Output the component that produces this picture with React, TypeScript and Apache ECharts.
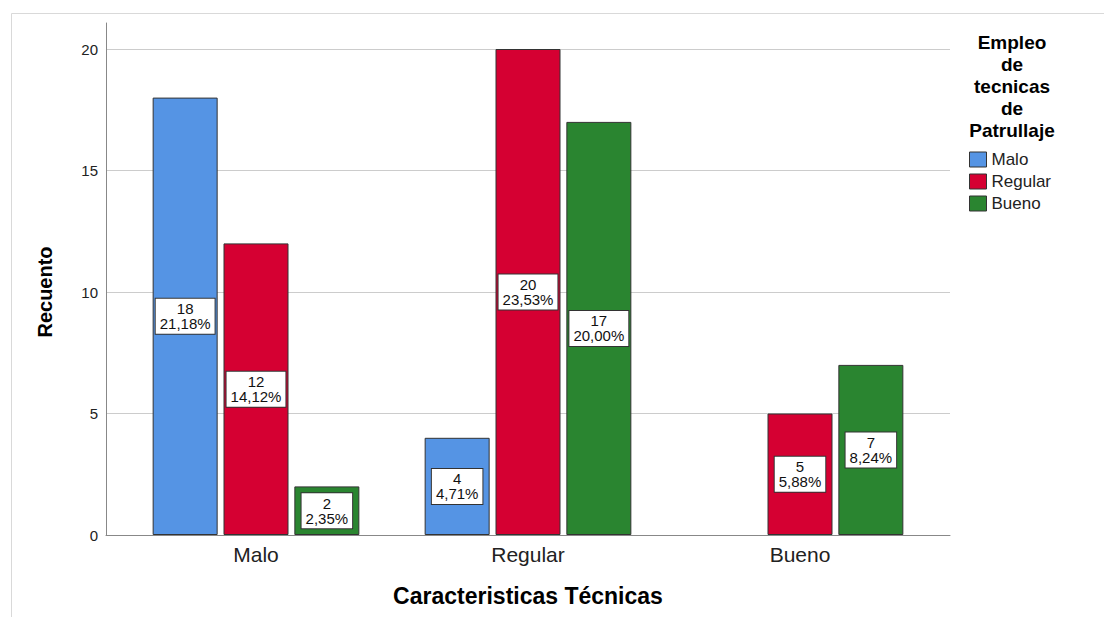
import React, { useEffect, useRef } from "react";
import * as echarts from "echarts";

const categories = ["Malo", "Regular", "Bueno"];
const seriesNames = ["Malo", "Regular", "Bueno"];
const maloValues: (number | null)[] = [18, 4, null];
const regularValues: (number | null)[] = [12, 20, 5];
const buenoValues: (number | null)[] = [2, 17, 7];
const yTicks = [0, 5, 10, 15, 20];
const colors = ["#5594e4", "#d50032", "#2a8530"];
const legendTitle = ["Empleo", "de", "tecnicas", "de", "Patrullaje"];

const allValues = [...maloValues, ...regularValues, ...buenoValues].filter(
  (v) => v != null
) as number[];
const total = allValues.reduce((a, b) => a + b, 0);

const FONT = "'Liberation Sans', Arial, sans-serif";

export default function App() {
  const ref = useRef<HTMLDivElement>(null);
  useEffect(() => {
    if (!ref.current) return;
    const chart = echarts.init(ref.current, null, { renderer: "svg" });
    const label = {
      show: true,
      position: "inside",
      formatter: (p: any) =>
        `${p.value}\n${((p.value / total) * 100).toFixed(2).replace(".", ",")}%`,
      backgroundColor: "#ffffff",
      borderColor: "#333333",
      borderWidth: 1,
      padding: [3, 4, 2, 4],
      color: "#111111",
      fontSize: 15,
      lineHeight: 15,
      fontFamily: FONT,
      align: "center",
    };
    const data = [maloValues, regularValues, buenoValues];
    const series = seriesNames.map((name, i) => ({
      name,
      type: "bar",
      xAxisIndex: 2,
      yAxisIndex: 2,
      barWidth: 65,
      barGap: "9%",
      data: data[i].map((v) => (v == null ? "-" : v)),
      itemStyle: { color: colors[i], borderColor: "#333333", borderWidth: 1 },
      label,
    }));
    const titleTexts = legendTitle.map((t, i) => ({
      type: "text",
      x: 1012,
      y: 42 + i * 22,
      style: {
        text: t,
        fill: "#000",
        font: `bold 19px ${FONT}`,
        textAlign: "center",
        textVerticalAlign: "middle",
        verticalAlign: "middle",
      },
    }));
    chart.setOption({
      animation: false,
      backgroundColor: "#ffffff",
      textStyle: { fontFamily: FONT },
      grid: [
        { left: 106, right: 154, top: 23, bottom: 82 },
        { left: 106, right: 154, top: 49, bottom: 82 },
        { left: 120, right: 168, top: 49, bottom: 82 },
      ],
      xAxis: [
        {
          gridIndex: 0,
          type: "value",
          min: 0,
          max: 1,
          axisLine: { show: true, lineStyle: { color: "#888888", width: 1 } },
          axisTick: { show: false },
          axisLabel: { show: false },
          splitLine: { show: false },
        },
        { gridIndex: 1, type: "value", min: 0, max: 1, show: false },
        {
          gridIndex: 2,
          type: "category",
          data: categories,
          axisLine: { show: false },
          axisTick: { show: false },
          axisLabel: { fontSize: 21, color: "#222222", margin: 9, fontFamily: FONT },
          name: "Caracteristicas Técnicas",
          nameLocation: "middle",
          nameGap: 49,
          nameTextStyle: { fontSize: 23, fontWeight: "bold", color: "#000", fontFamily: FONT },
        },
      ],
      yAxis: [
        {
          gridIndex: 0,
          type: "value",
          min: 0,
          max: 21.07,
          axisLine: { show: true, lineStyle: { color: "#888888", width: 1 } },
          axisTick: { show: false },
          axisLabel: { show: false },
          splitLine: { show: false },
        },
        {
          gridIndex: 1,
          type: "value",
          min: yTicks[0],
          max: yTicks[yTicks.length - 1],
          interval: 5,
          axisLine: { show: false },
          axisTick: { show: false },
          axisLabel: { fontSize: 15, color: "#222222", margin: 8, fontFamily: FONT },
          splitLine: { show: true, lineStyle: { color: "#cccccc", width: 1 } },
          name: "Recuento",
          nameLocation: "middle",
          nameGap: 51,
          nameRotate: 90,
          nameTextStyle: { fontSize: 20, fontWeight: "bold", color: "#000", fontFamily: FONT },
        },
        {
          gridIndex: 2,
          type: "value",
          min: 0,
          max: 20,
          show: false,
        },
      ],
      legend: {
        orient: "vertical",
        left: 964,
        top: 146,
        itemWidth: 17,
        itemHeight: 15,
        itemGap: 5,
        icon: "rect",
        data: seriesNames,
        itemStyle: { borderColor: "#333333", borderWidth: 1 },
        textStyle: { fontSize: 17, color: "#222222", fontFamily: FONT },
      },
      graphic: [
        {
          type: "polyline",
          shape: { points: [[11.5, 617], [11.5, 13.5], [1104, 13.5]] },
          style: { stroke: "#d9d9d9", lineWidth: 1, fill: null },
          silent: true,
        },
        ...titleTexts,
      ],
      series,
    });
    return () => chart.dispose();
  }, []);
  return (
    <div
      ref={ref}
      style={{ position: "absolute", left: 0, top: 0, width: 1104, height: 617 }}
    />
  );
}
